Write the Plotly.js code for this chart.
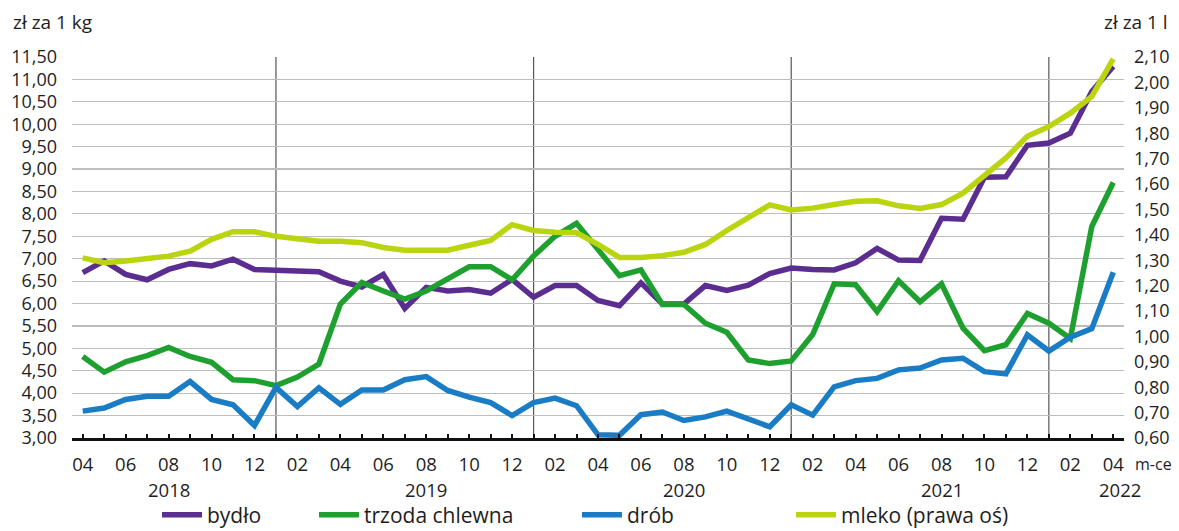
<!DOCTYPE html>
<html>
<head>
<meta charset="utf-8">
<script src="https://cdn.plot.ly/plotly-3.0.1.min.js"></script>
<style>
html,body{margin:0;padding:0;background:#fff;}
#chart{width:1179px;height:531px;}
</style>
</head>
<body>
<div id="chart"></div>
<script>
const months = [
  "2018-04","2018-05","2018-06","2018-07","2018-08","2018-09","2018-10","2018-11","2018-12",
  "2019-01","2019-02","2019-03","2019-04","2019-05","2019-06","2019-07","2019-08","2019-09","2019-10","2019-11","2019-12",
  "2020-01","2020-02","2020-03","2020-04","2020-05","2020-06","2020-07","2020-08","2020-09","2020-10","2020-11","2020-12",
  "2021-01","2021-02","2021-03","2021-04","2021-05","2021-06","2021-07","2021-08","2021-09","2021-10","2021-11","2021-12",
  "2022-01","2022-02","2022-03","2022-04"
];
// zł za 1 kg
const bydlo = [6.69,6.95,6.65,6.53,6.76,6.89,6.84,6.99,6.76,6.74,6.74,6.71,6.50,6.37,6.65,5.89,6.36,6.28,6.31,6.23,6.54,6.14,6.40,6.40,6.07,5.95,6.46,5.99,5.99,6.40,6.29,6.41,6.67,6.79,6.76,6.75,6.91,7.23,6.97,6.96,7.90,7.88,8.82,8.83,9.53,9.58,9.80,10.73,11.29];
const trzoda = [4.82,4.47,4.70,4.84,5.02,4.82,4.69,4.30,4.28,4.17,4.36,4.65,5.99,6.47,6.28,6.10,6.28,6.56,6.82,6.82,6.53,7.06,7.50,7.79,7.21,6.62,6.75,5.98,5.98,5.56,5.36,4.74,4.66,4.72,5.31,6.44,6.42,5.82,6.51,6.04,6.44,5.45,4.95,5.08,5.78,5.56,5.22,7.72,8.70];
const drob = [3.60,3.67,3.86,3.93,3.93,4.26,3.86,3.74,3.28,4.13,3.70,4.12,3.75,4.07,4.07,4.30,4.37,4.06,3.91,3.79,3.50,3.79,3.89,3.72,3.07,3.06,3.52,3.58,3.39,3.47,3.60,3.41,3.25,3.74,3.51,4.14,4.28,4.33,4.52,4.56,4.74,4.78,4.48,4.43,5.30,4.94,5.25,5.44,6.70];
// zł za 1 l (prawa oś)
const mleko = [1.309,1.290,1.297,1.308,1.316,1.336,1.382,1.412,1.412,1.394,1.384,1.375,1.375,1.369,1.350,1.339,1.339,1.339,1.359,1.378,1.440,1.417,1.410,1.408,1.362,1.311,1.311,1.318,1.331,1.362,1.417,1.470,1.518,1.498,1.505,1.519,1.532,1.534,1.514,1.504,1.519,1.564,1.636,1.703,1.788,1.826,1.879,1.945,2.093];

const seriesNames = ["bydło","trzoda chlewna","drób","mleko (prawa oś)"];
const colors = ["#5b2d91","#1ea02f","#1b7cc6","#bad40f"];
const years = ["2018","2019","2020","2021","2022"];
const yearLabelMonths = ["2018-08","2019-08","2020-08","2021-08","2022-04"];
const yearStartMonths = ["2019-01","2020-01","2021-01","2022-01"];

const xIdx = months.map((m, i) => i);
const tickIdx = xIdx.filter(i => parseInt(months[i].slice(5), 10) % 2 === 0);
const tickTxt = tickIdx.map(i => months[i].slice(5));

const FONT = "Open Sans, Noto Sans, DejaVu Sans, sans-serif";
const TXT = "#1e1e1e";
const legendX = [163, 320, 583, 797];

function trace(y, k, axis) {
  return {
    x: xIdx, y: y, type: "scatter", mode: "lines", name: seriesNames[k],
    yaxis: axis, line: {color: colors[k], width: 5.5, shape: "linear"},
    legend: k === 0 ? "legend" : "legend" + (k + 1),
    hoverinfo: "skip"
  };
}

const data = [
  trace(mleko, 3, "y2"),
  trace(bydlo, 0, "y"),
  trace(trzoda, 1, "y"),
  trace(drob, 2, "y")
];

const W = 1179, H = 531, L = 72, R = 55, T = 57, B = 93;
const pw = W - L - R, ph = H - T - B;
function px2paperX(px){ return (px - L) / pw; }
function px2paperY(py){ return (H - B - py) / ph; }

const shapes = yearStartMonths.map(m => ({
  type: "line", xref: "x", yref: "paper",
  x0: months.indexOf(m), x1: months.indexOf(m), y0: 0, y1: 1,
  line: {color: "#555555", width: 1.2}, layer: "below"
}));

const annotations = [
  {text: "zł za 1 kg", xref: "paper", yref: "paper", x: px2paperX(11), y: px2paperY(22),
   xanchor: "left", yanchor: "middle", showarrow: false, font: {family: FONT, size: 19, color: TXT}},
  {text: "zł za 1 l", xref: "paper", yref: "paper", x: px2paperX(1170), y: px2paperY(22),
   xanchor: "right", yanchor: "middle", showarrow: false, font: {family: FONT, size: 19, color: TXT}},
  {text: "m-ce", xref: "paper", yref: "paper", x: px2paperX(1133), y: px2paperY(464),
   xanchor: "left", yanchor: "middle", showarrow: false, font: {family: FONT, size: 16, color: TXT}}
].concat(years.map((yr, k) => ({
  text: yr, xref: "x", yref: "paper", x: months.indexOf(yearLabelMonths[k]) + (k === 4 ? 0.3 : 0),
  y: px2paperY(489), xanchor: "center", yanchor: "middle", showarrow: false,
  font: {family: FONT, size: 18.5, color: TXT}
})));

const layout = {
  width: W, height: H,
  margin: {l: L, r: R, t: T, b: B, pad: 0, autoexpand: false},
  paper_bgcolor: "#ffffff", plot_bgcolor: "#ffffff",
  separators: ", ",
  font: {family: FONT, size: 18, color: TXT},
  showlegend: true,
  xaxis: {
    range: [-0.5, 48.5], tickmode: "array", tickvals: tickIdx, ticktext: tickTxt,
    showgrid: false, zeroline: false, automargin: false,
    showline: true, linecolor: "#111", linewidth: 3,
    ticks: "inside", ticklen: 4, tickwidth: 2, tickcolor: "#111",
    minor: {tickmode: "array", tickvals: xIdx, ticks: "inside", ticklen: 4, tickwidth: 2, tickcolor: "#111", showgrid: false},
    tickfont: {family: FONT, size: 18.5, color: TXT},
    ticklabelstandoff: 8,
    fixedrange: true
  },
  yaxis: {
    range: [3, 11.5], dtick: 0.5, tick0: 3, tickformat: ".2f",
    showgrid: true, gridcolor: "#bdbdbd", gridwidth: 1.2, automargin: false,
    zeroline: false, showline: false, ticks: "",
    tickfont: {family: FONT, size: 18, color: TXT},
    ticklabelstandoff: 14,
    fixedrange: true
  },
  yaxis2: {
    range: [0.6, 2.1], dtick: 0.1, tick0: 0.6, tickformat: ".2f",
    overlaying: "y", side: "right", automargin: false,
    showgrid: false, zeroline: false, showline: false, ticks: "",
    tickfont: {family: FONT, size: 18, color: TXT},
    ticklabelstandoff: 9,
    fixedrange: true
  },
  shapes: shapes,
  annotations: annotations
};

["legend","legend2","legend3","legend4"].forEach((lg, k) => {
  layout[lg] = {
    xref: "container", yref: "container",
    x: (legendX[k] - 6) / W, y: (H - 515) / H,
    xanchor: "left", yanchor: "middle", orientation: "h",
    bgcolor: "rgba(0,0,0,0)", borderwidth: 0,
    itemwidth: 40,
    font: {family: FONT, size: 21, color: TXT}
  };
});

Plotly.newPlot("chart", data, layout, {staticPlot: true, displayModeBar: false});
</script>
</body>
</html>
